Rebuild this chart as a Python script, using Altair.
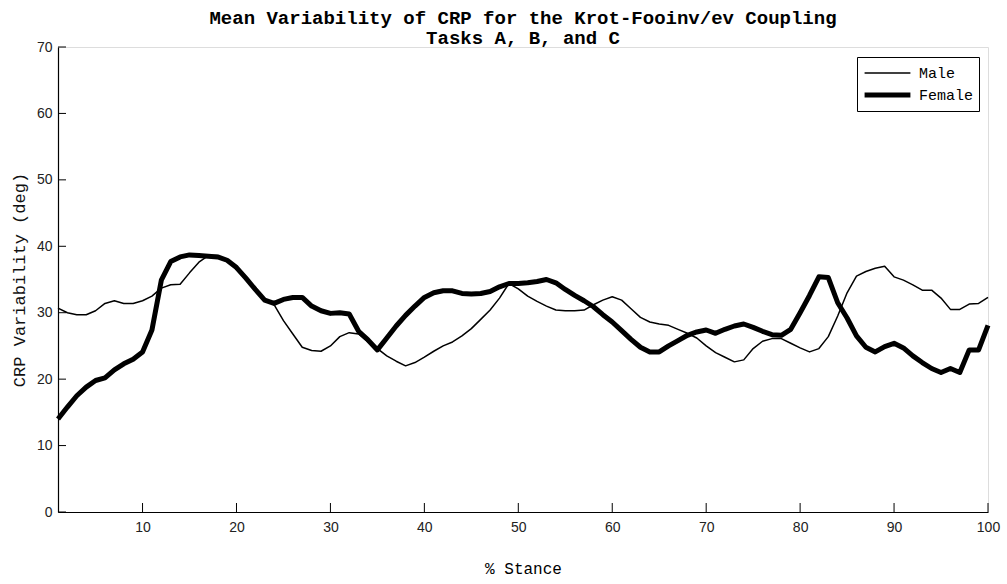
import altair as alt
import pandas as pd

stance = list(range(1, 101))

male = [30.7, 30.0, 29.7, 29.7, 30.3, 31.4, 31.8, 31.4, 31.4, 31.8,
        32.5, 33.7, 34.2, 34.3, 36.0, 37.6, 38.6, 38.6, 37.9, 36.7,
        35.0, 33.3, 32.0, 31.2, 28.8, 26.8, 24.8, 24.3, 24.2, 25.0,
        26.4, 27.0, 26.8, 25.6, 24.6, 23.5, 22.7, 22.0, 22.5, 23.3,
        24.2, 25.0, 25.6, 26.5, 27.6, 29.0, 30.4, 32.2, 34.4, 33.6,
        32.5, 31.7, 31.0, 30.4, 30.3, 30.3, 30.4, 31.2, 31.9, 32.4,
        31.9, 30.6, 29.3, 28.6, 28.3, 28.1, 27.5, 26.9, 26.2, 25.0,
        24.0, 23.3, 22.6, 22.9, 24.6, 25.7, 26.1, 26.1, 25.4, 24.7,
        24.1, 24.6, 26.4, 29.5, 33.0, 35.5, 36.2, 36.7, 37.0, 35.4,
        34.9, 34.2, 33.4, 33.4, 32.2, 30.5, 30.5, 31.3, 31.4, 32.3]

female = [14.0, 15.8, 17.5, 18.8, 19.8, 20.2, 21.4, 22.3, 23.0, 24.1,
          27.4, 34.9, 37.7, 38.4, 38.7, 38.6, 38.5, 38.4, 37.9, 36.8,
          35.2, 33.5, 31.9, 31.4, 32.0, 32.3, 32.3, 31.0, 30.3, 29.9,
          30.0, 29.8, 27.2, 25.9, 24.4, 26.2, 28.0, 29.6, 31.0, 32.3,
          33.0, 33.3, 33.3, 32.9, 32.8, 32.9, 33.2, 33.9, 34.4, 34.4,
          34.5, 34.7, 35.0, 34.5, 33.5, 32.6, 31.8, 30.9, 29.7, 28.6,
          27.3, 26.0, 24.8, 24.1, 24.1, 25.0, 25.8, 26.6, 27.1, 27.4,
          26.9, 27.5, 28.0, 28.3, 27.8, 27.2, 26.7, 26.6, 27.5, 30.0,
          32.6, 35.4, 35.3, 31.5, 29.2, 26.5, 24.8, 24.1, 24.9, 25.4,
          24.7, 23.5, 22.5, 21.6, 21.0, 21.6, 21.0, 24.4, 24.4, 28.1]

series_names = ["Male", "Female"]
x_ticks = [10, 20, 30, 40, 50, 60, 70, 80, 90, 100]
y_ticks = [0, 10, 20, 30, 40, 50, 60, 70]

df = pd.DataFrame({
    "stance": stance * 2,
    "value": male + female,
    "series": ["Male"] * len(stance) + ["Female"] * len(stance),
})
xt = pd.DataFrame({"t": x_ticks})
yt = pd.DataFrame({"t": y_ticks})

LABEL_FONT = "Liberation Sans"
MONO = "Liberation Mono"

xscale = alt.Scale(domain=[1, 100], nice=False, zero=False)
yscale = alt.Scale(domain=[0, 70], nice=False)

lines = alt.Chart(df).mark_line(color="black", strokeCap="butt", strokeJoin="round").encode(
    x=alt.X("stance:Q", scale=xscale,
            axis=alt.Axis(title="% Stance", values=x_ticks, ticks=False, grid=False,
                          domainColor="black", domainWidth=1.2,
                          labelFont=LABEL_FONT, labelFontSize=14, labelColor="#222",
                          labelPadding=8, labelFlush=False,
                          titleFont=MONO, titleFontSize=16, titleFontWeight="normal",
                          titlePadding=26, titleColor="black")),
    y=alt.Y("value:Q", scale=yscale,
            axis=alt.Axis(title="CRP Variability (deg)", values=y_ticks, ticks=False, grid=False,
                          domainColor="black", domainWidth=1.2,
                          labelFont=LABEL_FONT, labelFontSize=14, labelColor="#222",
                          labelPadding=6, labelFlush=False,
                          titleFont=MONO, titleFontSize=17, titleFontWeight="normal",
                          titlePadding=8, titleColor="#111")),
    strokeWidth=alt.StrokeWidth("series:N",
                                scale=alt.Scale(domain=series_names, range=[1.5, 5]),
                                legend=alt.Legend(title=None, orient="none",
                                                  legendX=799, legendY=10,
                                                  strokeColor="black", fillColor="white",
                                                  padding=5, clipHeight=22, rowPadding=0,
                                                  symbolType="stroke", symbolSize=2100,
                                                  symbolStrokeColor="black",
                                                  labelFont=MONO, labelFontSize=15,
                                                  labelColor="black", labelOffset=6)),
    order=alt.Order("stance:Q"),
)

xticks = alt.Chart(xt).mark_rule(color="black", strokeWidth=1).encode(
    x=alt.X("t:Q", scale=xscale),
    y=alt.value(465), y2=alt.value(456),
)
yticks = alt.Chart(yt).mark_rule(color="black", strokeWidth=1).encode(
    y=alt.Y("t:Q", scale=yscale),
    x=alt.value(0), x2=alt.value(8),
)

chart = alt.layer(lines, xticks, yticks).properties(
    width=930, height=465,
    padding={"left": 58, "top": 47, "right": 19, "bottom": 72},
    autosize=alt.AutoSizeParams(type="none"),
    title=alt.TitleParams(
        text=["Mean Variability of CRP for the Krot-Fooinv/ev Coupling", "Tasks A, B, and C"],
        font=MONO, fontSize=19, fontWeight="bold", color="black",
        anchor="middle", frame="group", lineHeight=20, offset=4, dy=12,
    ),
).configure_view(stroke=None).configure(background="white")

chart.save("out.html", embed_options={"renderer": "svg", "actions": False})
